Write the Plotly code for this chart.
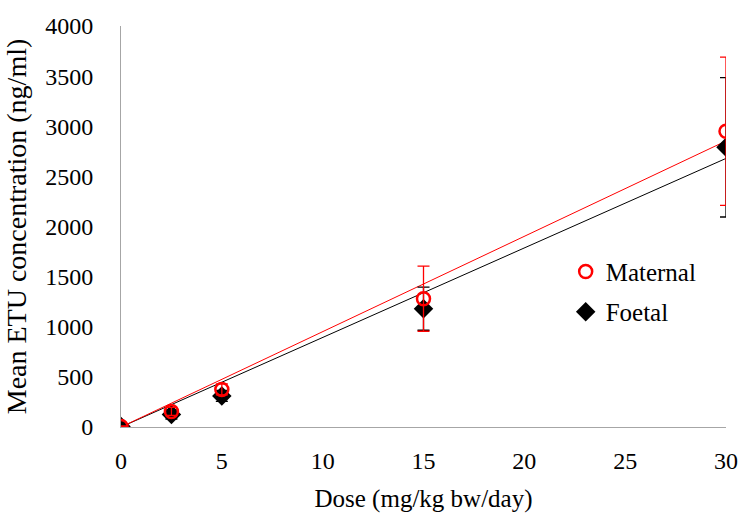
import numpy as np
import plotly.graph_objects as go

dose = [0, 2.5, 5, 15, 30]
maternal = [5, 155, 375, 1280, 2950]
maternal_err = [5, 40, 55, 325, 740]
foetal = [5, 125, 310, 1180, 2790]
foetal_err = [5, 45, 55, 215, 695]

x_ticks = [0, 5, 10, 15, 20, 25, 30]
y_ticks = [0, 500, 1000, 1500, 2000, 2500, 3000, 3500, 4000]

xd = np.array(dose, dtype=float)
def slope0(y):
    y = np.array(y, dtype=float)
    return float((xd * y).sum() / (xd * xd).sum())

sm = slope0(maternal)
sf = slope0(foetal)
xl = [0, 30]

font = "Liberation Serif, Times New Roman, serif"
fig = go.Figure()
fig.add_trace(go.Scatter(x=xl, y=[sf * v for v in xl], mode="lines",
                         line=dict(color="black", width=1), showlegend=False, hoverinfo="skip"))
fig.add_trace(go.Scatter(x=xl, y=[sm * v for v in xl], mode="lines",
                         line=dict(color="red", width=1), showlegend=False, hoverinfo="skip"))
fig.add_trace(go.Scatter(x=dose, y=foetal, mode="markers", name="Foetal", legend="legend2",
                         marker=dict(symbol="diamond", color="black", size=15),
                         error_y=dict(type="data", array=foetal_err, color="black", thickness=1.3, width=6)))
fig.add_trace(go.Scatter(x=dose, y=maternal, mode="markers", name="Maternal", legend="legend",
                         marker=dict(symbol="circle-open", color="red", size=13, line=dict(width=2.5, color="red")),
                         error_y=dict(type="data", array=maternal_err, color="red", thickness=1.3, width=6)))

leg_common = dict(xanchor="left", yanchor="middle", bgcolor="rgba(0,0,0,0)",
                  font=dict(size=25, family=font, color="black"), itemwidth=30)
fig.update_layout(
    width=740, height=513,
    margin=dict(l=121, r=14, t=26, b=86),
    paper_bgcolor="white", plot_bgcolor="white",
    font=dict(family=font, size=24, color="black"),
    legend=dict(x=0.735, y=0.387, **leg_common),
    legend2=dict(x=0.735, y=0.287, **leg_common),
    xaxis=dict(range=[0, 30], tickvals=x_ticks, ticktext=[str(v) for v in x_ticks],
               showgrid=False, zeroline=False, showline=True, linecolor="#a6a6a6", linewidth=1,
               ticks="", ticklabelstandoff=12,
               title=dict(text="Dose (mg/kg bw/day)", standoff=18, font=dict(size=25))),
    yaxis=dict(range=[0, 4000], tickvals=y_ticks, ticktext=[str(v) for v in y_ticks],
               showgrid=False, zeroline=False, showline=True, linecolor="#a6a6a6", linewidth=1,
               ticks="", ticklabelstandoff=22,
               title=dict(text="Mean ETU concentration (ng/ml)", standoff=10, font=dict(size=28))),
)
fig.update_xaxes(automargin=False)
fig.update_yaxes(automargin=False)
fig.write_html("out.html", config={"displayModeBar": False},
               post_script="document.body.style.margin='0';document.body.style.overflow='hidden';")
